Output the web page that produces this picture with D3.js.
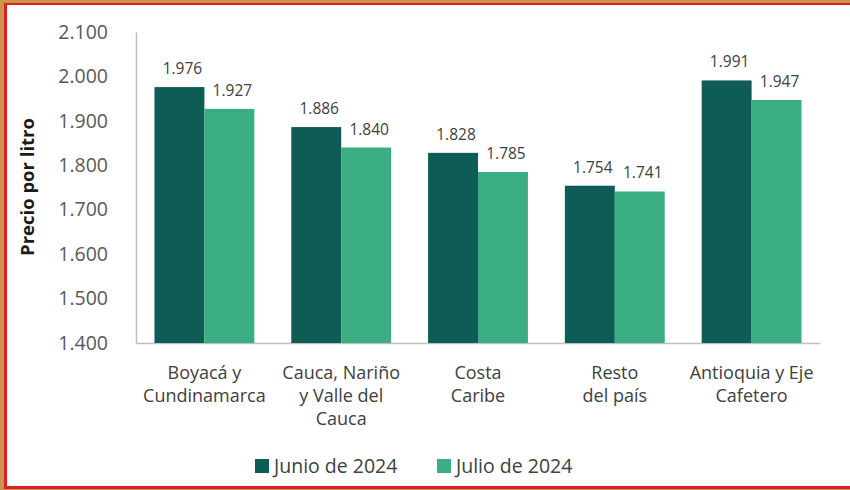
<!DOCTYPE html>
<html>
<head>
<meta charset="utf-8">
<script src="https://cdn.jsdelivr.net/npm/d3@7"></script>
<style>
  body { margin: 0; background: #fff; }
  svg { display: block; font-family: 'Open Sans', sans-serif; }
</style>
</head>
<body>
<svg id="chart" width="850" height="490"></svg>
<script>
const categories = [
  ['Boyacá y', 'Cundinamarca'],
  ['Cauca, Nariño', 'y Valle del', 'Cauca'],
  ['Costa', 'Caribe'],
  ['Resto', 'del país'],
  ['Antioquia y Eje', 'Cafetero']
];
const junio = [1976, 1886, 1828, 1754, 1991];
const julio = [1927, 1840, 1785, 1741, 1947];
const seriesNames = ['Junio de 2024', 'Julio de 2024'];
const yTicks = [1400, 1500, 1600, 1700, 1800, 1900, 2000, 2100];

const colors = ['#0d5c55', '#3aae82'];
const fmt = (v) => d3.format(',.3f')(v / 1000).replace(',', '');

const svg = d3.select('#chart');

// frame
svg.append('rect').attr('x', 0).attr('y', 0).attr('width', 850).attr('height', 490).attr('fill', '#c8954f');
svg.append('rect').attr('x', 4).attr('y', 3).attr('width', 850).attr('height', 486).attr('fill', '#e0201e');
svg.append('rect').attr('x', 7).attr('y', 5).attr('width', 850).attr('height', 481).attr('fill', '#fff');

const margin = { top: 32, left: 136, right: 30 };
const plotH = 311;
const plotW = 684;

const g = svg.append('g').attr('transform', `translate(${margin.left},${margin.top})`);

const x0 = d3.scaleBand().domain(d3.range(categories.length)).range([0, plotW]).paddingInner(0.27).paddingOuter(0.135);
const x1 = d3.scaleBand().domain([0, 1]).range([0, x0.bandwidth()]);
const y = d3.scaleLinear().domain([1400, 2100]).range([plotH, 0]);

// y axis
const yAxis = g.append('g')
  .call(d3.axisLeft(y).tickValues(yTicks).tickSize(0).tickPadding(28).tickFormat(fmt));
yAxis.select('.domain').attr('stroke', '#bfbfbf').attr('stroke-width', 1.5);
yAxis.selectAll('text').attr('font-size', 19.5).attr('fill', '#595959').attr('font-family', 'Open Sans, sans-serif');

// x axis
const xAxis = g.append('g').attr('transform', `translate(0,${plotH})`)
  .call(d3.axisBottom(x0).tickSize(0).tickFormat(''));
xAxis.select('.domain').attr('stroke', '#bfbfbf').attr('stroke-width', 1.5);

xAxis.selectAll('.tick').each(function (d) {
  const t = d3.select(this).append('text')
    .attr('text-anchor', 'middle')
    .attr('fill', '#404040')
    .attr('font-size', 18)
    .attr('font-family', 'Open Sans, sans-serif');
  categories[d].forEach((line, i) => {
    t.append('tspan').attr('x', 0).attr('y', 36 + i * 23).text(line);
  });
});

// bars
const series = [junio, julio];
const groups = g.selectAll('.grp').data(categories).enter().append('g')
  .attr('class', 'grp')
  .attr('transform', (d, i) => `translate(${x0(i)},0)`);

groups.selectAll('rect').data((d, i) => series.map((s, k) => ({ k, v: s[i] }))).enter().append('rect')
  .attr('x', (d) => x1(d.k))
  .attr('y', (d) => y(d.v))
  .attr('width', x1.bandwidth())
  .attr('height', (d) => plotH - y(d.v))
  .attr('fill', (d) => colors[d.k]);

groups.selectAll('.lbl').data((d, i) => series.map((s, k) => ({ k, v: s[i] }))).enter().append('text')
  .attr('class', 'lbl')
  .attr('x', (d) => x1(d.k) + x1.bandwidth() / 2 + 3)
  .attr('y', (d) => y(d.v) - 13)
  .attr('text-anchor', 'middle')
  .attr('font-size', 15.5)
  .attr('fill', '#404040')
  .text((d) => fmt(d.v));

// y title
svg.append('text')
  .attr('transform', 'translate(34,187) rotate(-90)')
  .attr('text-anchor', 'middle')
  .attr('font-size', 18.5)
  .attr('font-weight', 'bold')
  .attr('fill', '#1a1a1a')
  .text('Precio por litro');

// legend
const legend = svg.append('g').attr('transform', 'translate(255,459)');
const legX = [0, 182];
seriesNames.forEach((name, i) => {
  legend.append('rect').attr('x', legX[i]).attr('y', 0).attr('width', 14).attr('height', 14).attr('fill', colors[i]);
  legend.append('text').attr('x', legX[i] + 19).attr('y', 14)
    .attr('font-size', 19.5).attr('fill', '#404040').text(name);
});
</script>
</body>
</html>
